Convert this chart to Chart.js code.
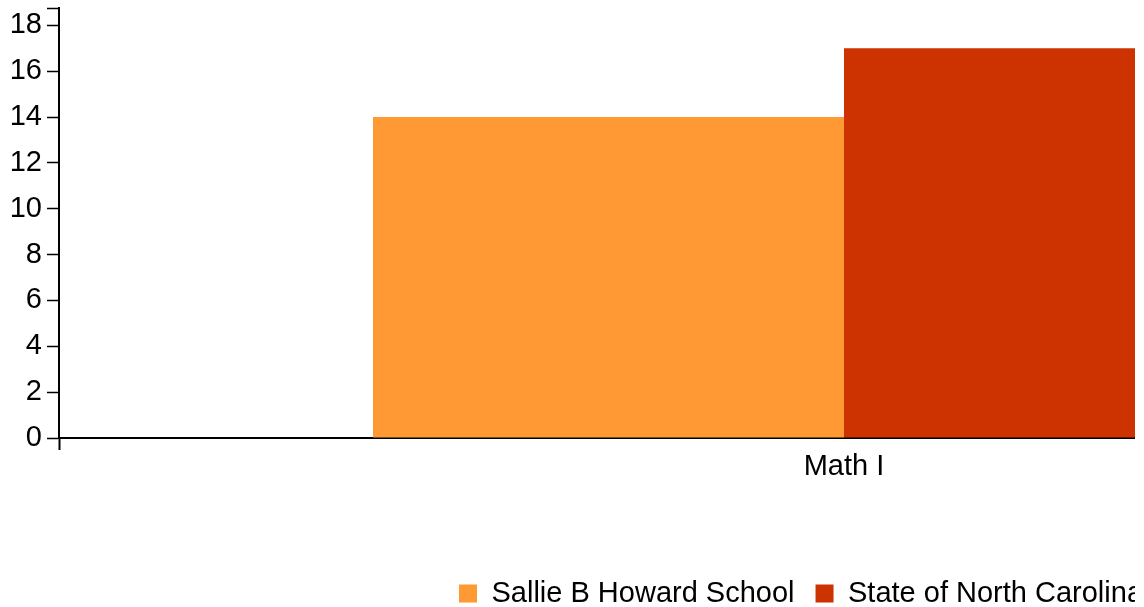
<!DOCTYPE html>
<html>
<head>
<meta charset="utf-8">
<script src="https://cdn.jsdelivr.net/npm/chart.js@4/dist/chart.umd.min.js"></script>
<style>
    html, body { margin: 0; padding: 0; background: #fff; overflow: hidden; }
    #wrap { width: 1135px; height: 607px; overflow: hidden; position: relative; }
    #my-graph { position: absolute; left: -27px; top: -14px; }
</style>
</head>
<body>
<div id="wrap">
    <canvas id="my-graph" width="1667" height="632"></canvas>
</div>
<script>
const categories = ["Math I"];
const school_values = [14];
const state_values = [17];
const series_names = ["Sallie B Howard School", "State of North Carolina"];
const y_ticks = [0, 2, 4, 6, 8, 10, 12, 14, 16, 18];
const y_max = 18.74;

Chart.defaults.font.family = "'Liberation Sans', Arial, sans-serif";
Chart.defaults.color = "#000";

const my_chart = new Chart("my-graph", {
    type: "bar",
    data: {
        labels: categories,
        datasets: [{
            label: series_names[0],
            data: school_values,
            backgroundColor: "#ff9933"
        }, {
            label: series_names[1],
            data: state_values,
            backgroundColor: "#cc3300"
        }]
    },
    options: {
        responsive: false,
        devicePixelRatio: 1,
        animation: false,
        layout: { padding: { top: 8, right: 11, left: 0, bottom: 0 } },
        datasets: {
            bar: { categoryPercentage: 0.6, barPercentage: 1.0 }
        },
        plugins: {
            tooltip: { enabled: false },
            legend: {
                position: "bottom",
                labels: {
                    boxWidth: 18,
                    boxHeight: 18,
                    padding: 21,
                    font: { size: 29 }
                }
            }
        },
        scales: {
            x: {
                offset: true,
                grid: {
                    offset: true,
                    drawOnChartArea: false,
                    drawTicks: true,
                    tickLength: 12,
                    tickWidth: 2,
                    tickColor: "#000"
                },
                border: { display: true, color: "#000", width: 2 },
                ticks: { font: { size: 29 }, padding: 0, color: "#000" },
                afterFit: (scale) => { scale.height = 120; }
            },
            y: {
                min: 0,
                max: y_max,
                grid: {
                    drawOnChartArea: false,
                    drawTicks: true,
                    tickLength: 12,
                    tickWidth: 1.5,
                    tickColor: "#000"
                },
                border: { display: true, color: "#000", width: 2 },
                ticks: {
                    font: { size: 29 },
                    padding: 5,
                    color: "#000",
                    autoSkip: false,
                    callback: (v) => (y_ticks.includes(v) ? v : "")
                },
                afterBuildTicks: (scale) => {
                    scale.ticks = y_ticks.concat([y_max]).map((v) => ({ value: v }));
                },
                afterFit: (scale) => { scale.width = 86; }
            }
        }
    }
});
</script>
</body>
</html>
